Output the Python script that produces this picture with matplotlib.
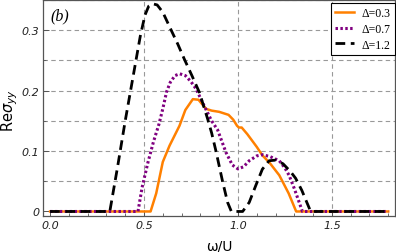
import matplotlib as mpl

mpl.use("Agg")
import matplotlib.pyplot as plt
from matplotlib.ticker import MultipleLocator

# Re sigma_yy vs omega/U
d03_x = [0.0, 0.535, 0.565, 0.60, 0.636, 0.689, 0.72, 0.76, 0.79, 0.83, 0.86, 0.90,
         0.95, 0.975, 0.995, 1.005, 1.02, 1.05, 1.10, 1.13, 1.17, 1.22, 1.27, 1.31, 1.8]
d03_y = [0.0, 0.0, 0.03, 0.082, 0.109, 0.142, 0.168, 0.186, 0.185, 0.17, 0.167, 0.165,
         0.16, 0.152, 0.142, 0.139, 0.139, 0.128, 0.107, 0.093, 0.08, 0.06, 0.03, 0.0, 0.0]

d07_x = [0.0, 0.468, 0.49, 0.52, 0.55, 0.58, 0.60, 0.62, 0.64, 0.665, 0.69, 0.72,
         0.75, 0.777, 0.82, 0.86, 0.892, 0.936, 0.97, 1.0, 1.03, 1.06, 1.10, 1.13, 1.17,
         1.22, 1.25, 1.272, 1.30, 1.325, 1.343, 1.8]
d07_y = [0.0, 0.0, 0.04, 0.08, 0.115, 0.145, 0.17, 0.198, 0.214, 0.225, 0.228, 0.225,
         0.215, 0.203, 0.175, 0.15, 0.135, 0.098, 0.077, 0.0705, 0.074, 0.084, 0.092, 0.094,
         0.091, 0.084, 0.072, 0.06, 0.038, 0.016, 0.0, 0.0]

d12_x = [0.0, 0.318, 0.36, 0.40, 0.44, 0.48, 0.505, 0.525, 0.545, 0.57, 0.60, 0.645,
         0.68, 0.715, 0.755, 0.795, 0.839, 0.86, 0.883, 0.918, 0.945, 0.965, 1.025, 1.06,
         1.095, 1.13, 1.166, 1.20, 1.24, 1.28, 1.307, 1.34, 1.36, 1.387, 1.8]
d12_y = [0.0, 0.0, 0.075, 0.15, 0.22, 0.29, 0.325, 0.34, 0.344, 0.342, 0.33, 0.30,
         0.277, 0.252, 0.225, 0.197, 0.153, 0.13, 0.10, 0.05, 0.015, 0.0, 0.0, 0.015,
         0.043, 0.07, 0.084, 0.085, 0.079, 0.066, 0.055, 0.035, 0.02, 0.0, 0.0]

labels = ["Δ=0.3", "Δ=0.7", "Δ=1.2"]

grid_x = [0.5, 1.0, 1.5]
grid_y = [0.05, 0.10, 0.15, 0.20, 0.25, 0.30, 0.35]

plt.rcParams["mathtext.fontset"] = "dejavusans"

fig = plt.figure(figsize=(3.96, 2.53), dpi=100)
fig.patch.set_facecolor("white")
ax = fig.add_axes([43.3 / 396, 1 - 216.7 / 253, (395 - 43.3) / 396, 216.2 / 253])

for gx in grid_x:
    ax.axvline(gx, color="#999999", lw=0.8, ls=(0, (4, 3)), zorder=0)
for gy in grid_y:
    ax.axhline(gy, color="#999999", lw=0.8, ls=(0, (4, 3)), zorder=0)

ax.plot(d03_x, d03_y, color="#FF8000", lw=1.8, label=labels[0], zorder=2)
ax.plot(d07_x, d07_y, color="#800080", lw=2.2, ls=(0, (0.8, 0.8)), label=labels[1], zorder=3)
ax.plot(d12_x, d12_y, color="black", lw=2.0, ls=(0, (3.5, 2)), label=labels[2], zorder=4)

ax.set_xlim(-0.036, 1.836)
ax.set_ylim(-0.007, 0.351)

ax.xaxis.set_minor_locator(MultipleLocator(0.1))
ax.yaxis.set_minor_locator(MultipleLocator(0.05))
ax.set_xticks([0.0, 0.5, 1.0, 1.5])
ax.set_xticklabels(["0.0", "0.5", "1.0", "1.5"])
ax.set_yticks([0.0, 0.1, 0.2, 0.3])
ax.set_yticklabels(["0", "0.1", "0.2", "0.3"])
ax.tick_params(which="both", direction="in", top=False, right=False,
               color="#555555", labelsize=8, pad=3)
ax.tick_params(which="major", length=4, width=0.7)
ax.tick_params(which="minor", length=2, width=0.6)
for t in ax.get_xticklabels() + ax.get_yticklabels():
    t.set_fontstyle("italic")
    t.set_color("#222222")

for sp in ax.spines.values():
    sp.set_color("#555555")
    sp.set_linewidth(0.9)

ax.set_xlabel("ω/U", fontsize=10, labelpad=6)
ax.set_ylabel(r"Re$\sigma_{yy}$", fontsize=10.5)
ax.yaxis.set_label_coords(-0.066, 0.49)

ax.text(0.02, 0.965, "(b)", transform=ax.transAxes, ha="left", va="top",
        fontsize=11.5, fontstyle="italic", family="Liberation Serif")

leg = ax.legend(loc="upper right", bbox_to_anchor=(1.0, 0.985),
                prop={"family": "Liberation Serif", "size": 8.5},
                fancybox=False, edgecolor="black", framealpha=1,
                handlelength=1.6, handletextpad=0.6, borderpad=0.4,
                labelspacing=0.3, borderaxespad=0.0)
leg.get_frame().set_linewidth(0.8)

fig.savefig("out.png", dpi=100, facecolor="white")
plt.close(fig)
